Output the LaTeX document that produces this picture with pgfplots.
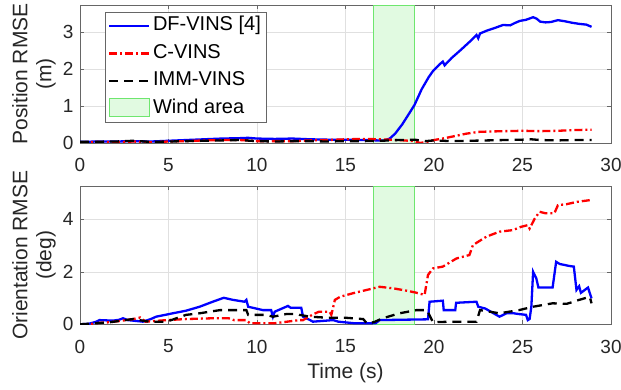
\documentclass[border=0pt]{standalone}
\usepackage{pgfplots}
\pgfplotsset{compat=1.18}
\usepackage{fontspec}
\setmainfont{Liberation Sans}
\definecolor{axgray}{RGB}{38,38,38}
\definecolor{windfill}{RGB}{225,250,225}
\definecolor{windedge}{RGB}{110,230,110}
\pgfplotsset{
  myax/.style={
    scale only axis, width=531bp, height=138bp,
    xmin=0, xmax=30, xtick={0,5,...,30},
    grid=major, major grid style={black!12, line width=0.5bp},
    tick align=inside, major tick length=4bp,
    axis line style={black!60, line width=0.6bp},
    every tick/.style={black!60, line width=0.6bp},
    tick label style={font=\fontsize{19bp}{22bp}\selectfont, text=axgray},
    xticklabel style={yshift=-12bp},
    yticklabel style={xshift=-3bp},
    label style={font=\fontsize{21bp}{24bp}\selectfont, text=axgray},
    /pgf/number format/assume math mode=true,
    ylabel style={at={(axis description cs:-0.0866,0.5)}, anchor=center, align=center},
    clip=true,
  },
  linelegend/.style={legend image code/.code={\draw[##1] (0bp,0bp) -- (40bp,0bp);}},
  arealegend/.style={legend image code/.code={\draw[##1] (0bp,-8bp) rectangle (40bp,10bp);}},
  dfline/.style={blue, line width=2.3bp},
  cline/.style={red, line width=2.3bp, dash pattern=on 8bp off 3bp on 2bp off 3bp},
  immline/.style={black, line width=2.3bp, dash pattern=on 9bp off 6bp},
}
\begin{document}
\begin{tikzpicture}
\useasboundingbox (0,0) rectangle (621bp,390bp);
% ---------------- top axis ----------------
\begin{axis}[myax, at={(80bp,247bp)}, anchor=south west,
  ymin=0, ymax=3.73, ytick={0,1,2,3},
  ylabel={Position RMSE\\(m)},
  legend style={at={(0.047,0.95)}, anchor=north west,
    font=\fontsize{20bp}{22bp}\selectfont, text=black,
    draw=black!60, line width=0.6bp, fill=white,
    nodes={inner sep=2.5bp, text height=14bp, text depth=4.5bp},
    row sep=4bp},
  legend cell align=left]
\addplot[fill=windfill, draw=windedge, line width=0.8bp, forget plot]
  coordinates {(16.6,0) (16.6,3.73) (18.9,3.73) (18.9,0)} -- cycle;
\addplot[dfline, linelegend] coordinates {
(0,0.03)(1,0.04)(2,0.04)(3,0.05)(4,0.04)(5,0.06)(6,0.08)(7,0.1)(8,0.12)(9,0.13)(9.5,0.14)(10,0.12)(11,0.11)(12,0.12)(13,0.1)(14,0.09)(15,0.09)(16,0.08)(16.8,0.07)(17.2,0.07)(17.5,0.12)(17.8,0.25)(18.2,0.5)(18.6,0.8)(18.9,1.03)(19.3,1.45)(19.7,1.78)(19.95,1.95)(20.3,2.12)(20.5,2.2)(20.6,2.1)(21,2.3)(21.5,2.51)(22,2.73)(22.4,2.92)(22.5,2.83)(22.6,2.96)(23,3.04)(23.5,3.12)(23.9,3.19)(24.3,3.18)(24.6,3.25)(24.85,3.30)(25.2,3.33)(25.6,3.40)(25.8,3.36)(26,3.28)(26.3,3.26)(26.6,3.27)(27,3.32)(27.4,3.29)(27.8,3.25)(28.2,3.22)(28.6,3.2)(28.9,3.14)};
\addlegendentry{DF-VINS [4]}
\addplot[cline, linelegend] coordinates {
(0,0.02)(1,0.03)(2,0.02)(3,0.04)(4,0.02)(5,0.04)(6,0.05)(7,0.07)(8,0.08)(9,0.08)(9.5,0.07)(10,0.05)(11,0.05)(12,0.05)(13,0.07)(14,0.08)(15,0.1)(16,0.11)(17,0.1)(18,0.08)(18.9,0.05)(19.2,0.0)(19.6,0.03)(20,0.08)(20.5,0.12)(21,0.17)(21.8,0.25)(22.5,0.3)(23.1,0.31)(24,0.32)(25,0.33)(26,0.32)(27,0.33)(28,0.35)(28.9,0.36)};
\addlegendentry{C-VINS}
\addplot[immline, linelegend] coordinates {
(0,0.03)(2,0.04)(3,0.06)(4,0.03)(5,0.04)(6,0.05)(7,0.06)(8,0.07)(9,0.08)(10,0.05)(11,0.04)(12,0.05)(13,0.05)(14,0.04)(15,0.05)(16,0.05)(17,0.06)(18,0.08)(18.9,0.09)(19.5,0.05)(20,0.07)(21,0.05)(22,0.06)(23,0.07)(24,0.08)(25,0.09)(25.5,0.1)(26,0.08)(27,0.07)(28,0.08)(28.9,0.08)};
\addlegendentry{IMM-VINS}
\addlegendimage{fill=windfill, draw=windedge, line width=0.8bp, arealegend}
\addlegendentry{Wind area}
\end{axis}
% ---------------- bottom axis ----------------
\begin{axis}[myax, at={(80bp,65.7bp)}, anchor=south west,
  ymin=0, ymax=5.26, ytick={0,2,4},
  ylabel={Orientation RMSE\\(deg)},
  xlabel={Time (s)},
  xlabel style={at={(rel axis cs:0.5,0)}, yshift=-49bp, anchor=center}]
\addplot[fill=windfill, draw=windedge, line width=0.8bp, forget plot]
  coordinates {(16.6,0) (16.6,5.26) (18.9,5.26) (18.9,0)} -- cycle;
\addplot[dfline] coordinates {
(0,0)(0.5,0.02)(0.93,0.1)(1.1,0.16)(1.86,0.14)(2.2,0.17)(2.43,0.23)(2.7,0.16)(3.56,0.1)(4,0.2)(4.3,0.29)(5.25,0.42)(6.0,0.52)(6.76,0.67)(7.5,0.86)(8.12,1.01)(8.65,0.93)(9.3,0.86)(9.4,0.93)(9.5,0.67)(10.34,0.54)(10.8,0.54)(10.9,0.29)(11,0.48)(11.75,0.70)(11.9,0.63)(12.5,0.63)(12.6,0.29)(13.0,0.16)(13.16,0.1)(14.3,0.16)(14.6,0.1)(15.2,0.06)(15.5,0.04)(16.7,0.04)(16.93,0.16)(19.66,0.19)(19.75,0.86)(20.5,0.9)(20.55,0.54)(21.2,0.54)(21.25,0.82)(22.4,0.86)(22.5,0.67)(22.9,0.6)(23.7,0.29)(24.1,0.42)(24.5,0.42)(24.8,0.39)(25.2,0.36)(25.3,0.16)(25.4,0.2)(25.5,0.67)(25.6,2.0)(25.78,1.75)(25.9,1.4)(26.7,1.4)(26.9,2.38)(27.1,2.3)(27.67,2.22)(27.9,2.2)(28.05,1.31)(28.2,1.45)(28.3,1.2)(28.7,1.4)(28.9,0.99)};
\addplot[cline] coordinates {
(0,0)(0.5,0)(1,0.05)(1.7,0.08)(2.5,0.15)(3.0,0.2)(3.4,0.26)(3.7,0.1)(4.9,0.16)(6.0,0.2)(7.5,0.23)(8.4,0.23)(8.7,0.16)(9.4,0.16)(9.6,0.04)(10.5,0.04)(11.0,0.04)(11.7,0.1)(12.4,0.16)(12.6,0.16)(13.2,0.39)(13.5,0.48)(14.1,0.48)(14.2,0.36)(14.4,0.93)(14.7,1.05)(15.4,1.18)(16.2,1.31)(16.93,1.43)(17.7,1.37)(18.3,1.3)(18.9,1.22)(19.47,1.12)(19.66,1.88)(19.94,2.13)(20.5,2.2)(21.27,2.51)(22.0,2.64)(22.2,3.02)(22.96,3.34)(23.7,3.53)(24.45,3.59)(24.94,3.72)(25.3,3.78)(25.4,3.65)(25.7,4.04)(25.97,4.29)(26.3,4.23)(26.8,4.23)(27.0,4.54)(27.5,4.58)(28.1,4.67)(28.9,4.74)};
\addplot[immline] coordinates {
(0,0)(0.5,0.02)(1.7,0.08)(3.0,0.2)(3.9,0.1)(4.9,0.1)(6.0,0.36)(6.76,0.42)(7.9,0.54)(9.4,0.54)(9.5,0.36)(10.5,0.36)(10.9,0.29)(11.65,0.39)(12.3,0.39)(12.4,0.36)(13.0,0.29)(14,0.25)(15,0.25)(16,0.2)(16.2,0.04)(16.6,0.08)(17.1,0.23)(18.06,0.42)(19.0,0.54)(19.6,0.54)(19.94,0.08)(21,0.1)(22.4,0.1)(22.6,0.54)(23.7,0.42)(24.8,0.54)(25.6,0.67)(26.7,0.80)(27.5,0.78)(28.2,0.93)(28.8,1.05)(28.9,0.8)};
\end{axis}
\end{tikzpicture}
\end{document}
